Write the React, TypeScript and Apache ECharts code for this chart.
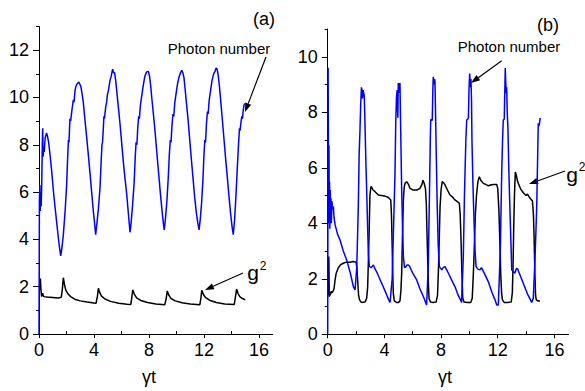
import React, { useEffect, useRef } from "react";
import * as echarts from "echarts";

const xTicks = [0, 4, 8, 12, 16];
const xMinorTicks = [2, 6, 10, 14];
const yTicksA = [0, 2, 4, 6, 8, 10, 12];
const yMinorTicksA = [1, 3, 5, 7, 9, 11, 13];
const yTicksB = [0, 2, 4, 6, 8, 10];
const yMinorTicksB = [1, 3, 5, 7, 9, 11];

// Panel (a): photon number vs γt
const photonA = [
  [0, 0], [0.03, 5.6], [0.06, 6.3], [0.09, 5.2], [0.12, 6.0], [0.16, 5.4], [0.2, 6.4], [0.24, 8.0], [0.27, 8.7], [0.3, 7.5],
  [0.34, 7.9], [0.38, 7.7], [0.45, 8.3], [0.55, 8.5], [0.62, 8.35], [0.7, 8.1], [0.8, 7.6], [0.92, 6.9], [1.04, 6.1], [1.16, 5.4],
  [1.29, 4.7], [1.4, 4.1], [1.48, 3.7], [1.58, 3.3],
  [1.68, 3.7], [1.77, 4.2], [1.9, 5.2], [2.01, 6.3], [2.08, 7.4], [2.14, 8.2], [2.18, 8.1], [2.25, 9.1], [2.3, 9.0], [2.4, 9.5],
  [2.5, 9.9], [2.55, 9.8], [2.62, 10.3], [2.7, 10.5], [2.8, 10.6], [2.9, 10.65], [2.98, 10.55], [3.05, 10.45], [3.12, 10.2], [3.22, 9.8],
  [3.35, 9.0], [3.47, 8.3], [3.6, 7.5], [3.71, 6.8], [3.83, 6.0], [3.95, 5.2], [4.04, 4.7], [4.12, 4.2],
  [4.2, 4.6], [4.32, 5.3], [4.44, 6.2], [4.52, 7.3], [4.58, 8.0], [4.62, 8.1], [4.67, 8.6], [4.72, 9.2], [4.76, 9.1], [4.85, 9.6],
  [4.92, 9.8], [4.97, 10.1], [5.05, 10.3], [5.16, 10.7], [5.25, 10.9], [5.32, 11.1], [5.36, 11.2], [5.42, 11.05], [5.5, 11.05], [5.58, 10.7],
  [5.65, 10.3], [5.77, 9.6], [5.89, 8.9], [6.01, 8.1], [6.13, 7.3], [6.25, 6.6], [6.38, 5.9], [6.5, 5.1], [6.62, 4.3],
  [6.7, 4.7], [6.8, 5.4], [6.92, 6.4], [7.0, 7.5], [7.06, 8.1], [7.12, 8.0], [7.18, 8.7], [7.25, 9.2], [7.3, 9.1], [7.38, 9.7],
  [7.48, 10.1], [7.58, 10.5], [7.7, 10.9], [7.8, 11.05], [7.88, 11.1], [7.96, 11.1], [8.04, 10.9], [8.12, 10.5], [8.2, 10.0], [8.32, 9.3],
  [8.45, 8.5], [8.58, 7.6], [8.7, 6.8], [8.82, 6.0], [8.95, 5.2], [9.04, 4.7], [9.11, 4.4],
  [9.2, 4.9], [9.3, 5.6], [9.4, 6.6], [9.48, 7.6], [9.55, 8.2], [9.6, 8.1], [9.67, 8.8], [9.74, 9.3], [9.8, 9.2], [9.88, 9.8],
  [9.98, 10.2], [10.08, 10.6], [10.2, 10.9], [10.3, 11.05], [10.38, 11.15], [10.46, 11.05], [10.54, 10.85], [10.62, 10.4], [10.7, 9.9], [10.82, 9.2],
  [10.95, 8.3], [11.08, 7.4], [11.2, 6.6], [11.32, 5.8], [11.45, 5.1], [11.55, 4.7], [11.64, 4.4],
  [11.72, 4.8], [11.82, 5.5], [11.92, 6.5], [12.0, 7.6], [12.06, 8.2], [12.11, 8.1], [12.18, 8.9], [12.25, 9.4], [12.3, 9.3], [12.38, 9.9],
  [12.48, 10.3], [12.58, 10.7], [12.7, 11.0], [12.8, 11.1], [12.88, 11.25], [12.95, 11.2], [13.02, 11.0], [13.1, 10.6], [13.18, 10.1], [13.3, 9.3],
  [13.43, 8.4], [13.56, 7.5], [13.7, 6.6], [13.82, 5.8], [13.95, 5.0], [14.05, 4.5], [14.13, 4.2],
  [14.22, 4.8], [14.32, 5.8], [14.42, 7.0], [14.5, 7.9], [14.58, 8.7], [14.62, 8.6], [14.68, 8.9], [14.75, 9.2], [14.8, 9.1], [14.86, 9.5],
  [14.92, 9.7], [14.98, 9.75],
];

// Panel (a): g2 vs γt
const g2A = [
  [0.07, 1.86], [0.1, 2.35], [0.14, 1.9], [0.19, 1.58], [0.27, 1.72], [0.34, 1.58], [0.6, 1.56], [1.0, 1.54], [1.4, 1.52], [1.62, 1.55],
  [1.7, 1.9], [1.77, 2.38], [1.85, 2.1], [1.95, 1.85], [2.1, 1.7], [2.3, 1.58], [2.6, 1.47], [3.0, 1.4], [3.5, 1.35], [4.0, 1.31], [4.15, 1.3],
  [4.25, 1.6], [4.32, 1.93], [4.42, 1.75], [4.55, 1.6], [4.8, 1.48], [5.2, 1.38], [5.8, 1.3], [6.4, 1.26], [6.68, 1.25],
  [6.75, 1.55], [6.82, 1.87], [6.92, 1.7], [7.1, 1.53], [7.4, 1.42], [7.9, 1.33], [8.5, 1.27], [9.15, 1.24],
  [9.25, 1.5], [9.33, 1.82], [9.43, 1.66], [9.6, 1.5], [9.9, 1.4], [10.4, 1.32], [11.0, 1.27], [11.7, 1.24],
  [11.77, 1.5], [11.84, 1.85], [11.95, 1.68], [12.1, 1.55], [12.4, 1.43], [12.9, 1.33], [13.5, 1.27], [14.2, 1.25],
  [14.28, 1.55], [14.37, 1.9], [14.47, 1.72], [14.6, 1.58], [14.8, 1.5], [15.0, 1.44],
];

// Panel (b): photon number vs γt
const photonB = [
  [0, 0], [0.02, 6.0], [0.03, 9.6], [0.05, 6.5], [0.07, 4.2], [0.09, 6.8], [0.11, 4.0], [0.13, 5.5], [0.15, 3.8], [0.18, 5.2],
  [0.2, 4.4], [0.23, 4.9], [0.26, 4.0], [0.3, 4.8], [0.35, 4.5], [0.4, 4.6], [0.45, 4.2], [0.52, 3.95], [0.7, 3.6], [0.87, 3.4],
  [1.1, 3.0], [1.34, 2.68], [1.6, 2.2], [1.81, 1.72], [1.93, 1.6],
  [2.05, 2.4], [2.16, 4.6], [2.22, 6.5], [2.28, 7.4], [2.33, 8.3], [2.38, 8.9], [2.42, 8.8], [2.46, 8.5], [2.5, 8.8], [2.54, 8.7],
  [2.58, 8.6], [2.63, 7.6], [2.69, 6.3], [2.75, 5.2], [2.81, 4.0], [2.87, 2.9], [2.94, 2.45], [3.05, 2.4], [3.15, 2.45], [3.22, 2.5],
  [3.3, 2.4], [3.5, 2.2], [3.8, 1.85], [4.1, 1.5], [4.3, 1.25], [4.4, 1.15],
  [4.55, 2.0], [4.68, 4.5], [4.75, 5.8], [4.8, 7.6], [4.85, 8.5], [4.9, 8.8], [4.95, 7.8], [4.98, 9.05], [5.02, 8.7], [5.06, 9.0],
  [5.1, 9.05], [5.13, 8.0], [5.18, 6.5], [5.22, 5.2], [5.28, 3.9], [5.34, 2.8], [5.42, 2.4], [5.5, 2.42], [5.6, 2.5], [5.69, 2.5],
  [5.78, 2.45], [6.0, 2.2], [6.28, 1.96], [6.5, 1.65], [6.75, 1.36], [6.98, 1.06],
  [7.1, 2.5], [7.18, 5.0], [7.24, 7.0], [7.27, 7.72], [7.33, 7.75], [7.38, 7.7], [7.42, 8.8], [7.45, 9.28], [7.5, 9.0], [7.54, 9.2],
  [7.57, 9.1], [7.61, 8.0], [7.66, 6.5], [7.73, 4.6], [7.8, 3.2], [7.88, 2.44], [8.05, 2.32], [8.15, 2.4], [8.28, 2.44], [8.52, 2.2],
  [8.75, 1.95], [8.98, 1.72], [9.2, 1.42], [9.45, 1.15],
  [9.57, 2.8], [9.65, 5.0], [9.69, 5.8], [9.75, 7.0], [9.81, 7.72], [9.88, 7.75], [9.93, 7.8], [9.97, 8.8], [10.02, 9.4], [10.06, 8.9],
  [10.11, 9.2], [10.15, 8.4], [10.18, 7.0], [10.25, 5.4], [10.33, 4.0], [10.4, 3.0], [10.47, 2.44], [10.6, 2.35], [10.75, 2.32], [10.85, 2.4],
  [11.1, 2.15], [11.33, 1.9], [11.6, 1.5], [11.8, 1.25], [11.93, 1.06], [12.04, 1.06],
  [12.18, 3.0], [12.28, 5.8], [12.34, 7.0], [12.39, 7.72], [12.46, 7.75], [12.5, 8.8], [12.53, 9.59], [12.57, 9.0], [12.6, 8.7], [12.63, 8.9],
  [12.67, 8.0], [12.72, 7.4], [12.77, 6.2], [12.82, 5.2], [12.9, 3.8], [12.99, 2.32], [13.1, 2.26], [13.2, 2.2], [13.33, 2.38], [13.4, 2.35],
  [13.6, 2.1], [13.8, 1.84], [14.1, 1.45], [14.4, 1.15], [14.51, 1.3],
  [14.62, 2.6], [14.7, 3.8], [14.75, 4.6], [14.82, 6.5], [14.86, 7.6], [14.9, 7.5], [14.93, 7.55], [14.97, 7.7], [15.0, 7.8],
];

// Panel (b): g2 vs γt
const g2B = [
  [0.05, 1.4], [0.08, 2.8], [0.11, 1.35], [0.14, 1.5], [0.18, 1.4], [0.24, 1.55], [0.3, 1.5], [0.38, 1.55], [0.45, 1.65], [0.52, 1.96],
  [0.6, 2.2], [0.75, 2.4], [0.9, 2.5], [1.1, 2.56], [1.3, 2.6], [1.57, 2.6], [1.8, 2.62], [2.0, 2.6], [2.06, 2.4], [2.12, 1.9],
  [2.18, 1.4], [2.25, 1.24], [2.35, 1.16], [2.5, 1.15], [2.65, 1.17], [2.75, 1.3], [2.82, 1.7], [2.88, 2.8], [2.93, 3.8], [2.98, 5.0],
  [3.05, 5.32], [3.1, 5.3], [3.2, 5.2], [3.34, 5.14], [3.45, 5.08], [3.57, 5.02], [3.8, 5.0], [4.0, 4.98], [4.16, 4.96], [4.3, 4.92],
  [4.45, 4.84], [4.5, 4.3], [4.54, 3.4], [4.59, 2.2], [4.63, 1.48], [4.7, 1.2], [4.85, 1.15], [5.0, 1.15], [5.1, 1.2], [5.17, 1.6],
  [5.22, 2.2], [5.28, 3.6], [5.34, 4.84], [5.4, 5.3], [5.46, 5.44], [5.57, 5.5], [5.7, 5.4], [5.81, 5.26], [6.0, 5.2], [6.28, 5.2],
  [6.5, 5.25], [6.65, 5.4], [6.72, 5.55], [6.8, 5.45], [6.9, 5.25], [6.96, 4.7], [7.0, 3.8], [7.04, 3.0], [7.1, 1.9], [7.15, 1.3],
  [7.25, 1.16], [7.45, 1.15], [7.65, 1.16], [7.75, 1.4], [7.82, 2.4], [7.88, 3.6], [7.93, 4.6], [8.0, 5.2], [8.08, 5.5], [8.12, 5.5],
  [8.2, 5.45], [8.28, 5.38], [8.45, 5.2], [8.63, 5.02], [8.8, 4.95], [8.98, 4.84], [9.15, 4.78], [9.29, 4.72], [9.35, 4.3], [9.41, 3.4],
  [9.47, 2.2], [9.53, 1.3], [9.62, 1.16], [9.85, 1.15], [10.1, 1.15], [10.2, 1.3], [10.28, 2.2], [10.35, 3.2], [10.42, 4.3], [10.5, 5.0],
  [10.6, 5.5], [10.7, 5.68], [10.8, 5.55], [10.98, 5.44], [11.15, 5.4], [11.33, 5.35], [11.5, 5.38], [11.7, 5.4], [11.93, 5.4], [12.0, 5.25],
  [12.08, 4.5], [12.15, 3.3], [12.21, 2.2], [12.27, 1.5], [12.33, 1.24], [12.45, 1.15], [12.7, 1.15], [12.95, 1.16], [13.03, 1.5], [13.08, 2.5],
  [13.13, 3.9], [13.18, 5.0], [13.24, 5.85], [13.3, 5.75], [13.38, 5.55], [13.45, 5.44], [13.6, 5.25], [13.8, 5.1], [14.0, 5.0], [14.1, 5.05],
  [14.28, 4.9], [14.45, 4.8], [14.52, 4.3], [14.57, 3.4], [14.62, 2.2], [14.67, 1.4], [14.72, 1.24], [14.85, 1.2], [14.98, 1.2],
];

const FONT = "'Liberation Sans', Arial, Helvetica, sans-serif";
const BLUE = "#0000ff";

function arrow(x1: number, y1: number, x2: number, y2: number) {
  const dx = x2 - x1, dy = y2 - y1;
  const len = Math.sqrt(dx * dx + dy * dy);
  const ux = dx / len, uy = dy / len;
  const hl = 9, hw = 3.2;
  const bx = x2 - ux * hl, by = y2 - uy * hl;
  return [
    { type: "line", shape: { x1, y1, x2: bx, y2: by }, style: { stroke: "#000", lineWidth: 1.2 } },
    {
      type: "polygon",
      shape: { points: [[x2, y2], [bx - uy * hw, by + ux * hw], [bx + uy * hw, by - ux * hw]] },
      style: { fill: "#000" },
    },
  ];
}

function txt(x: number, y: number, text: string, size: number, align = "center") {
  return {
    type: "text",
    x,
    y,
    style: { text, fontSize: size, fontFamily: FONT, fill: "#000", align, verticalAlign: "middle" },
  };
}

function xAxes(gridIndex: number) {
  return [
    {
      type: "value", gridIndex, min: 0, max: 17, position: "bottom",
      axisLine: { show: true, onZero: false, lineStyle: { color: "#000", width: 1 } },
      axisTick: { show: true, customValues: xTicks, length: 4, lineStyle: { color: "#000" } },
      axisLabel: { customValues: xTicks, fontSize: 18, fontFamily: FONT, color: "#000", margin: 7 },
      splitLine: { show: false },
    },
    {
      type: "value", gridIndex, min: 0, max: 17, position: "bottom",
      axisLine: { show: false, onZero: false },
      axisTick: { show: true, customValues: xMinorTicks, inside: true, length: 3, lineStyle: { color: "#000" } },
      axisLabel: { show: false },
      splitLine: { show: false },
    },
  ];
}

function yAxes(gridIndex: number, max: number, ticks: number[], minor: number[]) {
  return [
    {
      type: "value", gridIndex, min: 0, max, position: "left",
      axisLine: { show: true, onZero: false, lineStyle: { color: "#000", width: 1 } },
      axisTick: { show: true, customValues: ticks, length: 6, lineStyle: { color: "#000" } },
      axisLabel: { customValues: ticks, fontSize: 18, fontFamily: FONT, color: "#000", margin: 10 },
      splitLine: { show: false },
    },
    {
      type: "value", gridIndex, min: 0, max, position: "left",
      axisLine: { show: false, onZero: false },
      axisTick: { show: true, customValues: minor, length: 3, lineStyle: { color: "#000" } },
      axisLabel: { show: false },
      splitLine: { show: false },
    },
  ];
}

function lineSeries(data: number[][], color: string, xi: number, yi: number, z: number) {
  return {
    type: "line", data, xAxisIndex: xi, yAxisIndex: yi, showSymbol: false, symbol: "none",
    lineStyle: { color, width: 1.5 }, z, silent: true,
  };
}

export default function App() {
  const ref = useRef<HTMLDivElement>(null);
  useEffect(() => {
    if (!ref.current) return;
    const chart = echarts.init(ref.current, undefined, { renderer: "svg" });
    chart.setOption({
      animation: false,
      backgroundColor: "#fff",
      grid: [
        { left: 39, top: 26.5, width: 233.75, height: 307.5 },
        { left: 327.7, top: 29, width: 240.9, height: 305.3 },
      ],
      xAxis: [...xAxes(0), ...xAxes(1)],
      yAxis: [...yAxes(0, 13, yTicksA, yMinorTicksA), ...yAxes(1, 11, yTicksB, yMinorTicksB)],
      series: [
        lineSeries(g2A, "#000", 0, 0, 2),
        lineSeries(photonA, BLUE, 0, 0, 3),
        lineSeries(g2B, "#000", 2, 2, 2),
        lineSeries(photonB, BLUE, 2, 2, 3),
      ],
      graphic: [
        txt(264, 19, "(a)", 18),
        txt(548, 25, "(b)", 18),
        txt(219, 48, "Photon number", 15),
        txt(509, 46.5, "Photon number", 15),
        txt(149, 377, "γt", 18),
        txt(445, 377, "γt", 18),
        txt(253, 272, "g", 21),
        txt(263, 266, "2", 12),
        txt(572, 174, "g", 21),
        txt(582, 167, "2", 12),
        ...arrow(266, 57, 245, 112),
        ...arrow(243, 273, 205, 290),
        ...arrow(501.7, 60.7, 471, 83),
        ...arrow(565, 171, 529, 184),
      ],
    });
    return () => chart.dispose();
  }, []);
  return <div ref={ref} style={{ position: "fixed", left: 0, top: 0, width: 585, height: 391 }} />;
}
